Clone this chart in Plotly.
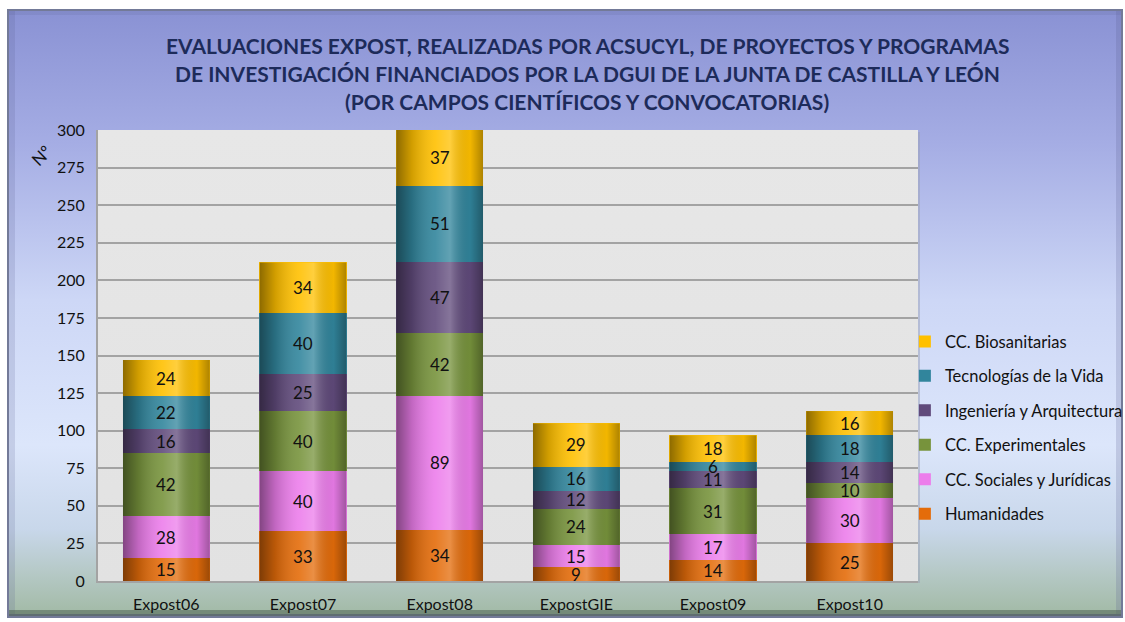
import base64
import plotly.graph_objects as go

# ---------------- data ----------------
CATEGORIES = ["Expost06", "Expost07", "Expost08", "ExpostGIE", "Expost09", "Expost10"]
HUMANIDADES = [15, 33, 34, 9, 14, 25]
SOCIALES = [28, 40, 89, 15, 17, 30]
EXPERIMENTALES = [42, 40, 42, 24, 31, 10]
INGENIERIA = [16, 25, 47, 12, 11, 14]
TECNOLOGIAS = [22, 40, 51, 16, 6, 18]
BIOSANITARIAS = [24, 34, 37, 29, 18, 16]
SERIES_NAMES = ["Humanidades", "CC. Sociales y Jurídicas", "CC. Experimentales",
                "Ingeniería y Arquitectura", "Tecnologías de la Vida", "CC. Biosanitarias"]
Y_TICKS = [0, 25, 50, 75, 100, 125, 150, 175, 200, 225, 250, 275, 300]
TITLE_LINES = ["EVALUACIONES EXPOST, REALIZADAS POR ACSUCYL, DE PROYECTOS Y PROGRAMAS",
               "DE INVESTIGACIÓN FINANCIADOS POR LA DGUI DE LA JUNTA DE CASTILLA Y LEÓN",
               "(POR CAMPOS CIENTÍFICOS Y CONVOCATORIAS)"]
Y_TITLE = "Nº"

SERIES = [HUMANIDADES, SOCIALES, EXPERIMENTALES, INGENIERIA, TECNOLOGIAS, BIOSANITARIAS]
COLORS = ["#e46c0a", "#ec7deb", "#77933c", "#604a7b", "#31859c", "#ffc000"]

# ---------------- geometry / style ----------------
W, H = 1125, 622
ML, MR, MT, MB = 98, 207, 130, 41
PW, PH = W - ML - MR, H - MT - MB
BAR_W = 0.637
FONT = "Lato, 'Open Sans', sans-serif"


def svg_uri(svg):
    return "data:image/svg+xml;base64," + base64.b64encode(svg.encode("utf-8")).decode()


bg_svg = f'''<svg xmlns="http://www.w3.org/2000/svg" width="{W}" height="{H}" viewBox="0 0 {W} {H}" preserveAspectRatio="none">
<defs>
<linearGradient id="g" x1="0" y1="0" x2="0" y2="1">
<stop offset="0" stop-color="#8a92d4"/>
<stop offset="0.22" stop-color="#a5ade4"/>
<stop offset="0.48" stop-color="#cdd7f6"/>
<stop offset="0.72" stop-color="#dce6fb"/>
<stop offset="0.86" stop-color="#c8d7ea"/>
<stop offset="0.94" stop-color="#b3c7c2"/>
<stop offset="1" stop-color="#a2baa6"/>
</linearGradient>
<linearGradient id="p" x1="0" y1="0" x2="0" y2="1">
<stop offset="0" stop-color="#e7e7e7"/><stop offset="1" stop-color="#e2e2e2"/>
</linearGradient>
</defs>
<rect width="{W}" height="{H}" fill="#ffffff"/>
<rect x="7" y="9" width="1116" height="609" fill="#737a98"/>
<rect x="9" y="11" width="1112" height="603" fill="url(#g)"/>
<rect x="9" y="11" width="6" height="603" fill="#5a6190" fill-opacity="0.18"/>
<rect x="9" y="11" width="1112" height="4" fill="#5a6190" fill-opacity="0.15"/>
<rect x="1116" y="11" width="5" height="603" fill="#5a6190" fill-opacity="0.22"/>
<rect x="9" y="610" width="1112" height="6" fill="#4e6252" fill-opacity="0.55"/>
<rect x="{ML+2}" y="{MT+2}" width="{PW}" height="{PH}" fill="#9aa0b5" fill-opacity="0.5"/>
<rect x="{ML}" y="{MT}" width="{PW}" height="{PH}" fill="url(#p)"/>
</svg>'''

shade_svg = '''<svg xmlns="http://www.w3.org/2000/svg" width="100" height="100" viewBox="0 0 100 100" preserveAspectRatio="none">
<defs><linearGradient id="s" x1="0" y1="0" x2="1" y2="0">
<stop offset="0" stop-color="#000" stop-opacity="0.45"/>
<stop offset="0.18" stop-color="#000" stop-opacity="0.18"/>
<stop offset="0.45" stop-color="#fff" stop-opacity="0.10"/>
<stop offset="0.62" stop-color="#fff" stop-opacity="0.24"/>
<stop offset="0.85" stop-color="#000" stop-opacity="0.05"/>
<stop offset="1" stop-color="#000" stop-opacity="0.32"/>
</linearGradient></defs>
<rect width="100" height="100" fill="url(#s)"/></svg>'''

xs = list(range(len(CATEGORIES)))

fig = go.Figure()
for i, (name, vals, col) in enumerate(zip(SERIES_NAMES, SERIES, COLORS)):
    fig.add_trace(go.Bar(
        x=xs, y=vals, name=name, legendgroup=name, legendrank=1000 - 10 * i,
        marker=dict(color=col, line=dict(width=0)),
        width=BAR_W, hoverinfo="name+y",
    ))

images = [dict(source=svg_uri(bg_svg), xref="paper", yref="paper",
               x=-ML / PW, y=1 + MT / PH, sizex=W / PW, sizey=H / PH,
               xanchor="left", yanchor="top", sizing="stretch", layer="below")]

annotations = []
totals = [sum(s[j] for s in SERIES) for j in xs]
for j in xs:
    images.append(dict(source=svg_uri(shade_svg), xref="x", yref="y",
                       x=j - BAR_W / 2, y=totals[j], sizex=BAR_W, sizey=totals[j],
                       xanchor="left", yanchor="top", sizing="stretch", layer="above"))
    base = 0
    for s in SERIES:
        v = s[j]
        annotations.append(dict(x=j, y=base + v / 2, xref="x", yref="y", text=str(v),
                                showarrow=False, font=dict(family=FONT, size=17, color="#111111")))
        base += v

for k, line in enumerate(TITLE_LINES):
    annotations.append(dict(x=587 / W, y=1 - (45 + 28 * k) / H, xref="paper", yref="paper",
                            text=f"<b>{line}</b>", showarrow=False, xanchor="center", yanchor="middle",
                            font=dict(family=FONT, size=21, color="#1d2b5a")))

annotations.append(dict(x=41 / W, y=1 - 155 / H, xref="paper", yref="paper", text=Y_TITLE,
                        showarrow=False, textangle=-45, xanchor="center", yanchor="middle",
                        font=dict(family=FONT, size=17, color="#111111")))

# make annotation paper coords relative to plot area
for a in annotations:
    if a["xref"] == "paper":
        px = a["x"] * W
        py = (1 - a["y"]) * H
        a["x"] = (px - ML) / PW
        a["y"] = 1 - (py - MT) / PH

fig.update_layout(
    width=W, height=H, autosize=False,
    margin=dict(l=ML, r=MR, t=MT, b=MB, pad=0, autoexpand=False),
    barmode="stack",
    paper_bgcolor="#ffffff",
    plot_bgcolor="rgba(0,0,0,0)",
    font=dict(family=FONT, size=16, color="#111111"),
    showlegend=True,
    legend=dict(traceorder="grouped", tracegroupgap=10,
                x=0.984, xanchor="left", y=0.34, yanchor="middle",
                bgcolor="rgba(0,0,0,0)", font=dict(family=FONT, size=16.5, color="#111111"),
                itemclick=False),
    images=images,
    annotations=annotations,
    xaxis=dict(range=[-0.5, len(CATEGORIES) - 0.5], tickvals=xs, ticktext=CATEGORIES,
               showgrid=False, zeroline=False, showline=True, linecolor="#a3a3a3", linewidth=2,
               ticks="", automargin=False,
               tickfont=dict(family=FONT, size=16, color="#111111"), ticklabelstandoff=8),
    yaxis=dict(range=[0, 300], tickvals=Y_TICKS, showgrid=True, gridcolor="#a3a3a3", gridwidth=2,
               zeroline=False, showline=True, linecolor="#a3a3a3", linewidth=2,
               ticks="", automargin=False,
               tickfont=dict(family=FONT, size=16, color="#111111"), ticklabelstandoff=8),
)

fig.write_html("out.html", config={"displayModeBar": False},
               post_script="document.body.style.margin='0';document.body.style.overflow='hidden';")
